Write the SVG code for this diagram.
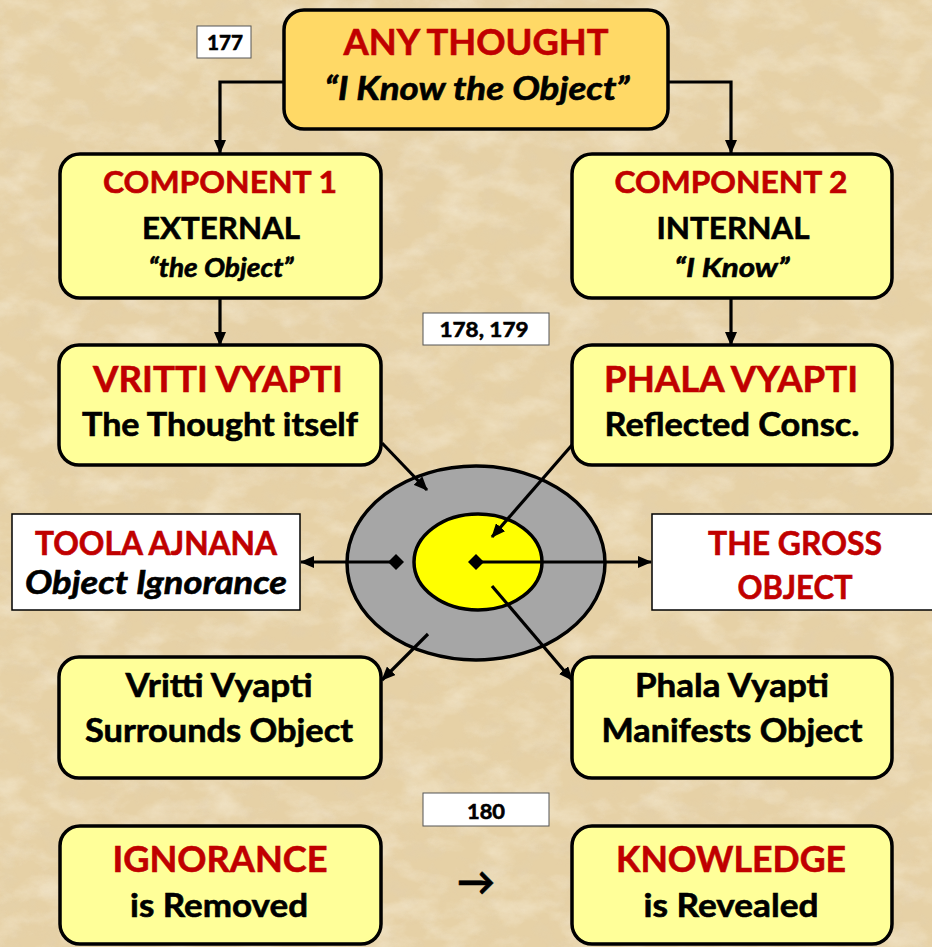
<svg xmlns="http://www.w3.org/2000/svg" width="932" height="947" viewBox="0 0 932 947">
<defs>
<style>
.box{fill:#FFFF99;stroke:#000;stroke-width:3.5}
.top{fill:#FFD966;stroke:#000;stroke-width:3.5}
.wbox{fill:#FFFFFF;stroke:#000;stroke-width:1.5}
.nbox{fill:#FFFFFF;stroke:#555;stroke-width:1}
text{font-family:Lato,"Open Sans","Liberation Sans",sans-serif;font-weight:bold;text-anchor:middle;stroke-width:0.6}
.red{fill:#C00000;stroke:#C00000}
.blk{fill:#000;stroke:#000}
.it{font-style:italic}
.con{fill:none;stroke:#000;stroke-width:3.2}
</style>
<marker id="arr" viewBox="0 0 14 12" markerWidth="14" markerHeight="12" refX="13" refY="6" orient="auto" markerUnits="userSpaceOnUse">
<path d="M0,0 L14,6 L0,12 Z" fill="#000"/>
</marker>
<marker id="dia" viewBox="0 0 16 16" markerWidth="16" markerHeight="16" refX="8" refY="8" orient="auto" markerUnits="userSpaceOnUse">
<path d="M0,8 L8,0 L16,8 L8,16 Z" fill="#000"/>
</marker>
<filter id="tex" x="0" y="0" width="100%" height="100%">
<feTurbulence type="fractalNoise" baseFrequency="0.025 0.04" numOctaves="5" seed="7" result="n"/>
<feColorMatrix in="n" type="matrix" values="0 0 0 0 0.97  0 0 0 0 0.92  0 0 0 0 0.8  1.2 0 0 0 -0.52"/>
</filter>
<filter id="tex2" x="0" y="0" width="100%" height="100%">
<feTurbulence type="fractalNoise" baseFrequency="0.05" numOctaves="4" seed="3" result="n"/>
<feColorMatrix in="n" type="matrix" values="0 0 0 0 0.75  0 0 0 0 0.63  0 0 0 0 0.45  0 1.1 0 0 -0.52"/>
</filter>
</defs>
<g id="background">
<rect x="0" y="0" width="932" height="947" fill="#E6D1A6"/>
<rect x="0" y="0" width="932" height="947" filter="url(#tex2)" opacity="0.8"/>
<rect x="0" y="0" width="932" height="947" filter="url(#tex)" opacity="0.8"/>
</g>
<g id="connectors">
<path class="con" d="M283,82 H220 V153" marker-end="url(#arr)"/>
<path class="con" d="M668,82 H731 V153" marker-end="url(#arr)"/>
<path class="con" d="M220,298 V345" marker-end="url(#arr)"/>
<path class="con" d="M731,298 V345" marker-end="url(#arr)"/>
</g>
<g id="node-top">
<rect class="top" x="284" y="10" width="384" height="119" rx="20"/>
<text class="red" x="476" y="55" font-size="37" textLength="265" lengthAdjust="spacingAndGlyphs">ANY THOUGHT</text>
<text class="blk it" x="477" y="100" font-size="32" textLength="305" lengthAdjust="spacingAndGlyphs">“I Know the Object”</text>
</g>
<g id="label-177">
<rect class="nbox" x="197" y="26" width="54" height="32"/>
<text class="blk" x="225" y="50" font-size="21" textLength="36" lengthAdjust="spacingAndGlyphs">177</text>
</g>
<g id="node-comp1">
<rect class="box" x="60" y="154" width="321" height="144" rx="20"/>
<text class="red" x="220" y="193" font-size="31" textLength="234" lengthAdjust="spacingAndGlyphs">COMPONENT 1</text>
<text class="blk" x="221" y="239" font-size="31" textLength="158" lengthAdjust="spacingAndGlyphs">EXTERNAL</text>
<text class="blk it" x="221" y="277" font-size="27" textLength="145" lengthAdjust="spacingAndGlyphs">“the Object”</text>
</g>
<g id="node-comp2">
<rect class="box" x="572" y="154" width="320" height="144" rx="20"/>
<text class="red" x="731" y="193" font-size="31" textLength="233" lengthAdjust="spacingAndGlyphs">COMPONENT 2</text>
<text class="blk" x="733" y="239" font-size="31" textLength="153" lengthAdjust="spacingAndGlyphs">INTERNAL</text>
<text class="blk it" x="732" y="277" font-size="27" textLength="115" lengthAdjust="spacingAndGlyphs">“I Know”</text>
</g>
<g id="label-178">
<rect class="nbox" x="423" y="313" width="126" height="32"/>
<text class="blk" x="484" y="337" font-size="21" textLength="89" lengthAdjust="spacingAndGlyphs">178, 179</text>
</g>
<g id="node-vritti">
<rect class="box" x="59" y="345" width="322" height="120" rx="20"/>
<text class="red" x="218" y="392" font-size="37" textLength="250" lengthAdjust="spacingAndGlyphs">VRITTI VYAPTI</text>
<text class="blk" x="220" y="436" font-size="32" textLength="276" lengthAdjust="spacingAndGlyphs">The Thought itself</text>
</g>
<g id="node-phala">
<rect class="box" x="572" y="345" width="320" height="120" rx="20"/>
<text class="red" x="731" y="392" font-size="37" textLength="254" lengthAdjust="spacingAndGlyphs">PHALA VYAPTI</text>
<text class="blk" x="732" y="436" font-size="32" textLength="255" lengthAdjust="spacingAndGlyphs">Reflected Consc.</text>
</g>
<g id="node-object">
<ellipse cx="476" cy="563" rx="129" ry="97" fill="#A6A6A6" stroke="#000" stroke-width="3.5"/>
<ellipse cx="478" cy="562" rx="64" ry="48" fill="#FFFF00" stroke="#000" stroke-width="3.5"/>
</g>
<g id="connectors-center">
<path class="con" d="M382,443 L427,490" marker-end="url(#arr)"/>
<path class="con" d="M572,445 L492,537" marker-end="url(#arr)"/>
<path class="con" d="M396,562 H301" marker-start="url(#dia)" marker-end="url(#arr)"/>
<path class="con" d="M476,562 H651" marker-start="url(#dia)" marker-end="url(#arr)"/>
<path class="con" d="M428,634 L382,680" marker-end="url(#arr)"/>
<path class="con" d="M492,586 L572,680" marker-end="url(#arr)"/>
</g>
<g id="node-toola">
<rect class="wbox" x="12" y="514" width="288" height="96"/>
<text class="red" x="156" y="555" font-size="32" textLength="242" lengthAdjust="spacingAndGlyphs">TOOLA AJNANA</text>
<text class="blk it" x="156" y="594" font-size="32" textLength="262" lengthAdjust="spacingAndGlyphs">Object Ignorance</text>
</g>
<g id="node-gross">
<rect class="wbox" x="652" y="514" width="285" height="96"/>
<text class="red" x="795" y="555" font-size="32" textLength="174" lengthAdjust="spacingAndGlyphs">THE GROSS</text>
<text class="red" x="795" y="599" font-size="32" textLength="115" lengthAdjust="spacingAndGlyphs">OBJECT</text>
</g>
<g id="node-vritti-surrounds">
<rect class="box" x="59" y="657" width="322" height="121" rx="20"/>
<text class="blk" x="219" y="697" font-size="32" textLength="187" lengthAdjust="spacingAndGlyphs">Vritti Vyapti</text>
<text class="blk" x="219" y="742" font-size="32" textLength="268" lengthAdjust="spacingAndGlyphs">Surrounds Object</text>
</g>
<g id="node-phala-manifests">
<rect class="box" x="572" y="657" width="320" height="121" rx="20"/>
<text class="blk" x="732" y="697" font-size="32" textLength="194" lengthAdjust="spacingAndGlyphs">Phala Vyapti</text>
<text class="blk" x="732" y="742" font-size="32" textLength="261" lengthAdjust="spacingAndGlyphs">Manifests Object</text>
</g>
<g id="label-180">
<rect class="nbox" x="423" y="793" width="126" height="33"/>
<text class="blk" x="486" y="819" font-size="21" textLength="38" lengthAdjust="spacingAndGlyphs">180</text>
</g>
<g id="node-ignorance">
<rect class="box" x="60" y="826" width="321" height="118" rx="20"/>
<text class="red" x="220" y="872" font-size="37" textLength="215" lengthAdjust="spacingAndGlyphs">IGNORANCE</text>
<text class="blk" x="219" y="917" font-size="32" textLength="178" lengthAdjust="spacingAndGlyphs">is Removed</text>
</g>
<g id="arrow-symbol">
<text class="blk" x="476" y="895" font-size="38" font-family="'DejaVu Sans',sans-serif" stroke-width="1.6">→</text>
</g>
<g id="node-knowledge">
<rect class="box" x="572" y="826" width="320" height="118" rx="20"/>
<text class="red" x="731" y="872" font-size="37" textLength="230" lengthAdjust="spacingAndGlyphs">KNOWLEDGE</text>
<text class="blk" x="731" y="917" font-size="32" textLength="175" lengthAdjust="spacingAndGlyphs">is Revealed</text>
</g>
</svg>
